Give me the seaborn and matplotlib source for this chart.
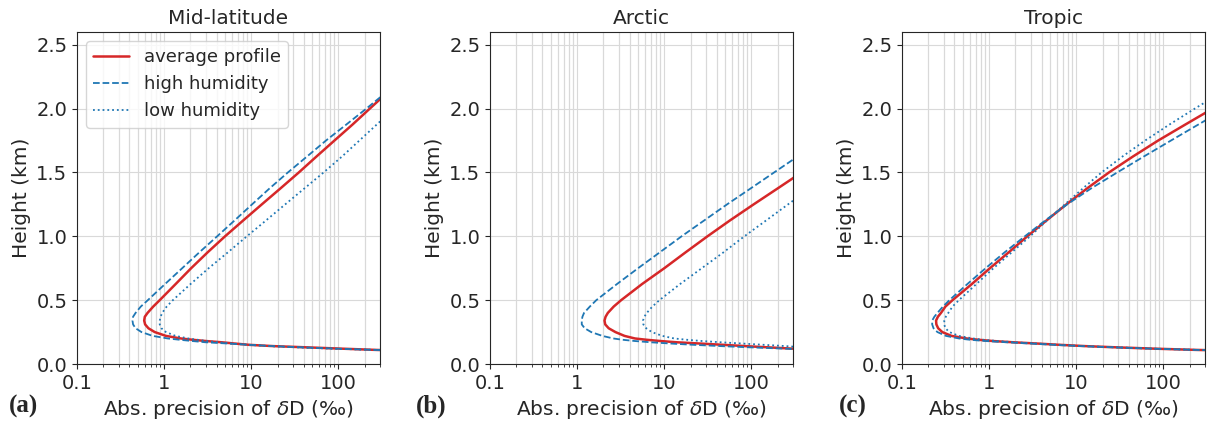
import numpy as np
import pandas as pd
import seaborn as sns
import matplotlib.pyplot as plt

# Height levels (km) shared by all profiles
heights = [0.105, 0.11, 0.12, 0.13, 0.14, 0.15, 0.16, 0.17, 0.18, 0.19, 0.2, 0.22, 0.25,
           0.28, 0.31, 0.34, 0.37, 0.4, 0.45,
           0.5, 0.625, 0.75, 0.875, 1.0, 1.125, 1.25, 1.375, 1.5, 1.625, 1.75, 1.875,
           2.0, 2.125, 2.25]

# Abs. precision of dD (permil)
mid_avg = [500, 280, 110, 45, 18, 9.5, 6.5, 4.6, 3.0, 2.1, 1.55, 1.05, 0.78,
           0.66, 0.605, 0.59, 0.60, 0.645, 0.75,
           0.89, 1.35, 2.04, 3.16, 5.0, 8.1, 13.2, 21.6, 35.1, 56, 90, 145, 229, 363, 575]
mid_high = [500, 270, 100, 40, 18, 9.5, 5.5, 3.0, 2.1, 1.5, 1.1, 0.74, 0.55,
            0.47, 0.44, 0.433, 0.44, 0.47, 0.54,
            0.65, 1.02, 1.61, 2.54, 4.06, 6.45, 10.2, 16.2, 26.3, 43.6, 72, 123, 209, 350, 590]
mid_low = [500, 280, 85, 35, 16, 9.5, 6.0, 4.2, 3.1, 2.4, 1.9, 1.35, 1.05,
           0.93, 0.89, 0.89, 0.91, 0.95, 1.07,
           1.26, 2.0, 3.24, 5.4, 8.9, 14.8, 24.5, 40.7, 67.6, 110, 174, 275, 437, 690, 1100]

arc_avg = [1000, 600, 300, 160, 85, 48, 26, 14, 9, 6.2, 4.6, 3.5, 2.75,
           2.3, 2.1, 2.06, 2.12, 2.25, 2.63,
           3.2, 5.53, 10, 17.6, 31.3, 56.9, 106, 200, 376, 700, 1300, 2450, 4600, 8500, 16000]
arc_high = [800, 500, 250, 100, 45, 22, 12, 7, 4.6, 3.3, 2.6, 1.95, 1.45,
            1.22, 1.13, 1.13, 1.15, 1.2, 1.4,
            1.66, 2.85, 5.0, 8.9, 15.8, 28.8, 52.5, 98, 182, 339, 630, 1175, 2190, 4070, 7600]
arc_low = [2000, 1200, 700, 400, 250, 140, 80, 45, 27, 18, 13, 9.5, 7.2,
           6.2, 5.75, 5.7, 5.9, 6.3, 7.3,
           8.8, 15.1, 26.9, 47.9, 83, 148, 263, 468, 830, 1480, 2630, 4680, 8300, 14800, 26300]

tro_avg = [600, 250, 80, 30, 12.8, 6.5, 3.6, 1.9, 1.1, 0.75, 0.55, 0.37, 0.29,
           0.26, 0.248, 0.246, 0.258, 0.28, 0.315,
           0.38, 0.63, 1.02, 1.68, 2.74, 4.57, 7.7, 13.3, 23.7, 44.7, 87, 178, 367, 760, 1585]
tro_high = [600, 250, 75, 28, 11.5, 5.6, 3.0, 1.6, 0.9, 0.6, 0.45, 0.32, 0.255,
            0.23, 0.222, 0.222, 0.235, 0.255, 0.295,
            0.35, 0.56, 0.91, 1.51, 2.57, 4.42, 7.85, 14.8, 29.5, 59.6, 122, 251, 519, 1070, 2210]
tro_low = [600, 250, 80, 30, 12.5, 6.5, 3.6, 2.0, 1.25, 0.85, 0.65, 0.45, 0.35,
           0.315, 0.305, 0.306, 0.318, 0.34, 0.38,
           0.45, 0.71, 1.12, 1.82, 2.95, 4.62, 7.4, 11.9, 19.5, 33.9, 61.7, 117, 229, 457, 912]

profiles = ["average profile", "high humidity", "low humidity"]
regions = ["Mid-latitude", "Arctic", "Tropic"]
panel_tags = ["(a)", "(b)", "(c)"]
region_data = {
    "Mid-latitude": [mid_avg, mid_high, mid_low],
    "Arctic": [arc_avg, arc_high, arc_low],
    "Tropic": [tro_avg, tro_high, tro_low],
}

rows = []
for reg in regions:
    for prof, vals in zip(profiles, region_data[reg]):
        for h, v in zip(heights, vals):
            rows.append({"region": reg, "profile": prof, "height": h, "precision": v})
df = pd.DataFrame(rows)

sns.set_style("ticks", rc={"axes.grid": True, "grid.color": "0.85", "grid.linewidth": 0.9,
                           "axes.edgecolor": "0.15", "xtick.color": "0.15", "ytick.color": "0.15"})
plt.rcParams["font.family"] = ["DejaVu Sans"]

palette = {"average profile": "#d62728", "high humidity": "#1f77b4", "low humidity": "#1f77b4"}
dashes = {"average profile": "", "high humidity": (3.7, 1.6), "low humidity": (1, 1.65)}
sizes = {"average profile": 1.8, "high humidity": 1.3, "low humidity": 1.3}

fig = plt.figure(figsize=(12.08, 4.24), dpi=100)
lefts = [77, 490, 902]
tag_x = [9, 416, 839]

for i, reg in enumerate(regions):
    ax = fig.add_axes([lefts[i] / 1208, 60 / 424, 303 / 1208, 332 / 424])
    sub = df[df["region"] == reg]
    sns.lineplot(data=sub, x="precision", y="height", hue="profile", style="profile",
                 size="profile", palette=palette, dashes=dashes, sizes=sizes,
                 sort=False, estimator=None, legend=(i == 0), ax=ax)
    ax.set_xscale("log")
    ax.set_xlim(0.1, 300)
    ax.set_ylim(0, 2.6)
    ax.set_xticks([0.1, 1, 10, 100], ["0.1", "1", "10", "100"])
    ax.set_yticks([0, 0.5, 1.0, 1.5, 2.0, 2.5], ["0.0", "0.5", "1.0", "1.5", "2.0", "2.5"])
    ax.grid(which="minor", axis="x", color="0.85", linewidth=0.9)
    ax.tick_params(labelsize=14)
    ax.set_title(reg, fontsize=14.5)
    ax.set_xlabel(r"Abs. precision of $\delta$D (‰)", fontsize=14.5)
    ax.set_ylabel("Height (km)", fontsize=14.5)
    if i == 0:
        sns.move_legend(ax, "upper left", title=None, fontsize=13, frameon=True)
    fig.text(tag_x[i] / 1208, 11 / 424, panel_tags[i], fontsize=18, fontweight="bold",
             family="Liberation Serif", va="baseline")

fig.savefig("out.png", dpi=100)
